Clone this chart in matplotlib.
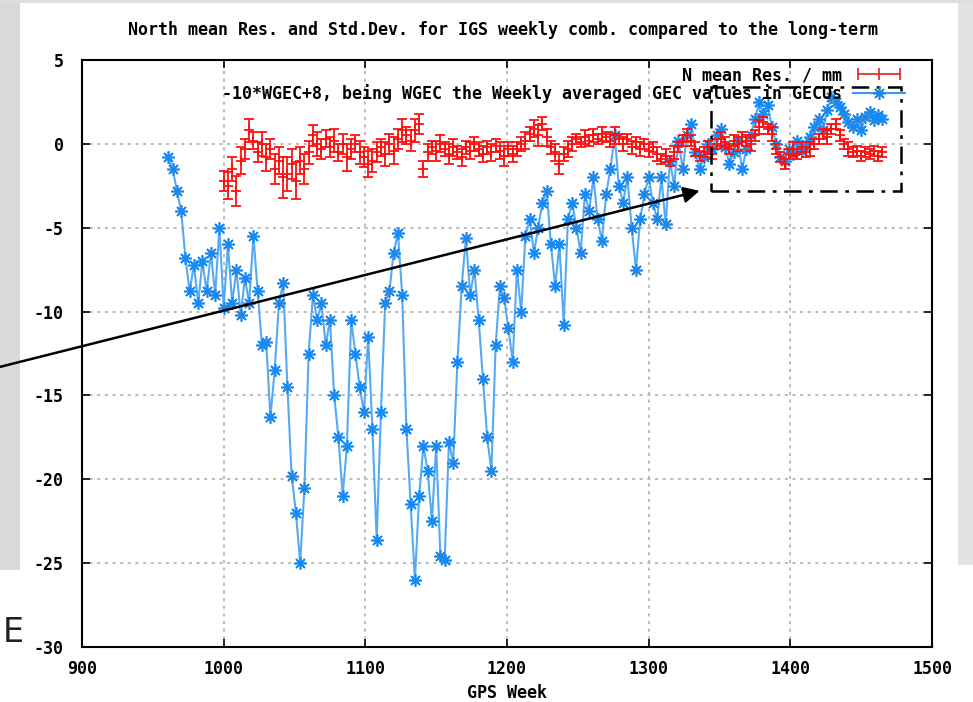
import numpy as np
import matplotlib.pyplot as plt
from matplotlib.lines import Line2D
from matplotlib.legend_handler import HandlerLine2D
from matplotlib.patches import Rectangle

# --- data -----------------------------------------------------------------
# North mean residual (mm) and std.dev., every third GPS week
res_week = np.arange(1000, 1466, 3)
res_mean = [
    -2.2, -2.5, -1.5, -2.8, -1.0, -0.3, 0.8, 0.2, -0.5, 0.0, -0.8, -0.3,
    -1.5, -1.0, -2.0, -1.8, -1.2, -2.2, -1.0, -1.5, -0.5, 0.5, 0.0, -0.3,
    0.3, -0.2, 0.2, -0.5, 0.0, -0.8, -0.3, 0.0, -0.5, -0.8, -1.2, -1.0,
    -0.5, -0.2, -0.6, 0.0, -0.4, 0.3, 0.8, 0.5, 0.2, 0.8, 1.2, -1.5,
    -0.5, -0.2, -0.4, 0.0, -0.3, -0.6, -0.2, -0.5, -0.8, -0.2, -0.4, 0.0,
    -0.3, -0.6, -0.2, -0.5, -0.1, -0.4, -0.7, -0.3, -0.6, -0.3, 0.0, 0.2,
    0.6, 0.9, 0.5, 1.2, 0.4, -0.2, -0.5, -1.2, -0.6, -0.3, 0.0, 0.3,
    0.1, 0.4, 0.2, 0.5, 0.3, 0.6, 0.4, 0.2, 0.5, 0.3, 0.0, 0.3,
    -0.2, 0.1, -0.3, 0.0, -0.4, -0.2, -0.6, -0.9, -0.7, -1.0, -0.5, -0.2,
    0.2, 0.5, 0.2, -0.3, -0.7, -0.5, -0.2, -0.6, 0.0, 0.3, 0.1, -0.3,
    0.2, 0.0, 0.4, 0.2, 0.0, 0.5, 1.0, 1.3, 0.9, 0.6, -0.3, -0.8,
    -1.2, -0.6, -0.3, -0.6, -0.2, -0.5, -0.3, 0.0, 0.3, 0.6, 0.4, 0.9,
    1.2, 0.5, 0.0, -0.3, -0.5, -0.4, -0.7, -0.5, -0.6, -0.4, -0.7, -0.5,
]
res_std = [
    0.6, 0.8, 0.7, 0.9, 0.8, 0.6, 0.7, 0.5, 0.6, 0.7, 0.8, 0.6,
    0.9, 0.8, 1.2, 1.0, 0.9, 1.1, 0.8, 0.9, 0.7, 0.6, 0.7, 0.6,
    0.5, 0.6, 0.7, 0.5, 0.6, 0.8, 0.6, 0.5, 0.7, 0.6, 0.8, 0.7,
    0.6, 0.5, 0.7, 0.6, 0.8, 0.6, 0.7, 0.5, 0.6, 0.7, 0.6, 0.5,
    0.5, 0.4, 0.6, 0.5, 0.4, 0.6, 0.5, 0.4, 0.5, 0.4, 0.5, 0.4,
    0.4, 0.5, 0.4, 0.5, 0.4, 0.5, 0.6, 0.4, 0.5, 0.4, 0.4, 0.5,
    0.4, 0.5, 0.6, 0.4, 0.5, 0.4, 0.5, 0.6, 0.4, 0.5, 0.4, 0.3,
    0.3, 0.4, 0.3, 0.4, 0.3, 0.4, 0.3, 0.4, 0.5, 0.3, 0.4, 0.3,
    0.4, 0.3, 0.4, 0.3, 0.4, 0.3, 0.4, 0.3, 0.4, 0.3, 0.4, 0.3,
    0.3, 0.4, 0.3, 0.4, 0.3, 0.3, 0.4, 0.3, 0.3, 0.4, 0.3, 0.3,
    0.3, 0.4, 0.3, 0.3, 0.4, 0.3, 0.4, 0.3, 0.3, 0.4, 0.3, 0.3,
    0.3, 0.3, 0.4, 0.3, 0.3, 0.3, 0.4, 0.3, 0.3, 0.3, 0.4, 0.3,
    0.3, 0.3, 0.3, 0.4, 0.3, 0.3, 0.3, 0.3, 0.3, 0.3, 0.3, 0.3,
]

# -10*WGEC+8, every third GPS week
gec_week = np.arange(961, 1466, 3)
gec_val = [
    -0.8, -1.5, -2.8, -4.0, -6.8, -8.8, -7.2, -9.5, -7.0, -8.8, -6.5, -9.0, -5.0,
    -9.8, -6.0, -9.5, -7.5, -10.2, -8.0, -9.5, -5.5, -8.8, -12.0, -11.8, -16.3, -13.5,
    -9.5, -8.3, -14.5, -19.8, -22.0, -25.0, -20.5, -12.5, -9.0, -10.5, -9.5, -12.0, -10.5,
    -15.0, -17.5, -21.0, -18.0, -10.5, -12.5, -14.5, -16.0, -11.5, -17.0, -23.6, -16.0, -9.5,
    -8.8, -6.5, -5.3, -9.0, -17.0, -21.5, -26.0, -21.0, -18.0, -19.5, -22.5, -18.0, -24.6,
    -24.8, -17.8, -19.0, -13.0, -8.5, -5.6, -9.0, -7.5, -10.5, -14.0, -17.5, -19.5, -12.0,
    -8.5, -9.2, -11.0, -13.0, -7.5, -10.0, -5.5, -4.5, -6.5, -5.0, -3.5, -2.8, -6.0,
    -8.5, -6.0, -10.8, -4.5, -3.5, -5.0, -6.5, -3.0, -4.0, -2.0, -4.5, -5.8, -3.0,
    -1.5, 0.5, -2.5, -3.5, -2.0, -5.0, -7.5, -4.5, -3.0, -2.0, -3.5, -4.5, -2.0,
    -4.8, -1.0, -2.5, 0.2, -1.5, 0.5, 1.2, -0.5, -1.5, -0.8, 0.0, -0.3, 0.5,
    0.9, -0.2, -1.2, -0.5, 0.2, -1.5, -0.3, 0.5, 1.5, 2.5, 1.8, 2.3, 1.0,
    0.0, -0.8, -1.0, -0.3, -0.6, 0.2, -0.4, 0.0, 0.4, 1.0, 1.5, 0.8, 2.0,
    2.8, 2.5, 2.2, 1.8, 1.3, 1.0, 1.5, 0.8, 1.6, 1.9, 1.4, 1.7, 1.5,
]

x_ticks = [900, 1000, 1100, 1200, 1300, 1400, 1500]
y_ticks = [-30, -25, -20, -15, -10, -5, 0, 5]

title = "North mean Res. and Std.Dev. for IGS weekly comb. compared to the long-term"
lab_res = "N mean Res. / mm"
lab_gec = "-10*WGEC+8, being WGEC the Weekly averaged GEC values in GECUs"

# --- figure ----------------------------------------------------------------
plt.rcParams['font.family'] = ['DejaVu Sans Mono']
plt.rcParams['font.weight'] = 'bold'
plt.rcParams['axes.unicode_minus'] = False

W, H = 973, 702
fig = plt.figure(figsize=(W / 100, H / 100), dpi=100, facecolor='white')

# grey slide background peeking round the white plot panel
fig.add_artist(Rectangle((0, 1 - 570 / H), 20 / W, 570 / H, transform=fig.transFigure,
                         color='#d9d9d9', lw=0, zorder=0))
fig.add_artist(Rectangle((958 / W, 1 - 565 / H), 15 / W, 565 / H, transform=fig.transFigure,
                         color='#e2e2e2', lw=0, zorder=0))
fig.add_artist(Rectangle((0, 1 - 3 / H), 1, 3 / H, transform=fig.transFigure,
                         color='#dedede', lw=0, zorder=0))

ax = fig.add_axes([82 / W, 1 - 647 / H, 850 / W, 587 / H])

ax.plot(gec_week, gec_val, color='#55aaf5', lw=1.5, marker=(8, 2, 0), ms=9,
        mec='#1a88ee', mew=1.2, zorder=2)
ax.errorbar(res_week, res_mean, yerr=res_std, fmt='+', color='#ff1010', ms=7, mew=1.3,
            elinewidth=1.3, capsize=3.5, capthick=1.3, zorder=3)

ax.set_xlim(900, 1500)
ax.set_ylim(-30, 5)
ax.set_xticks(x_ticks)
ax.set_yticks(y_ticks)
ax.grid(True, color='#a8a8a8', linestyle=(0, (2, 3)), lw=1.1)
ax.tick_params(direction='in', length=6, width=1.2, top=True, right=True,
               labelsize=12)
ax.tick_params(axis='x', pad=9)
ax.tick_params(axis='y', pad=13)
for s in ax.spines.values():
    s.set_linewidth(1.5)

ax.set_xlabel("GPS Week", fontsize=12, fontweight='bold', labelpad=5)
fig.text(503 / W, 1 - 30 / H, title, ha='center', va='center', fontsize=12)

h_res = Line2D([], [], color='#e03030', marker='|', ms=9, mew=1.3, lw=1.3)
h_gec = Line2D([], [], color='#3399ff', marker=(8, 2, 0), ms=9, mew=1.2, lw=1.5, mec='#1a88ee')
ax.legend([h_res, h_gec], [lab_res, lab_gec], loc='upper right',
          bbox_to_anchor=((905 - 82) / 850, 1 - 6 / 587), borderaxespad=0, borderpad=0,
          frameon=False, markerfirst=False, handlelength=3.1, handletextpad=0.7,
          labelspacing=0.02, fontsize=12,
          handler_map={h_res: HandlerLine2D(numpoints=3), h_gec: HandlerLine2D(numpoints=1)})

# zoom box and arrow drawn over the chart
ax.add_patch(Rectangle((1344, -2.8), 134, 6.2, fill=False, ec='black', lw=1.8,
                       ls=(0, (7, 3, 1.5, 3)), zorder=5))
arr = ax.annotate('', xy=(1336, -2.8), xytext=(842, -13.3), annotation_clip=False,
                  arrowprops=dict(arrowstyle='-|>', color='black', lw=1.8,
                                  mutation_scale=24, shrinkA=0, shrinkB=0))
arr.arrow_patch.set_clip_on(False)

fig.text(3 / W, 1 - 632 / H, "E", fontsize=24, family='DejaVu Sans', weight='normal',
         ha='left', va='center', color='#202020')

fig.savefig("out.png", dpi=100, facecolor=fig.get_facecolor())
